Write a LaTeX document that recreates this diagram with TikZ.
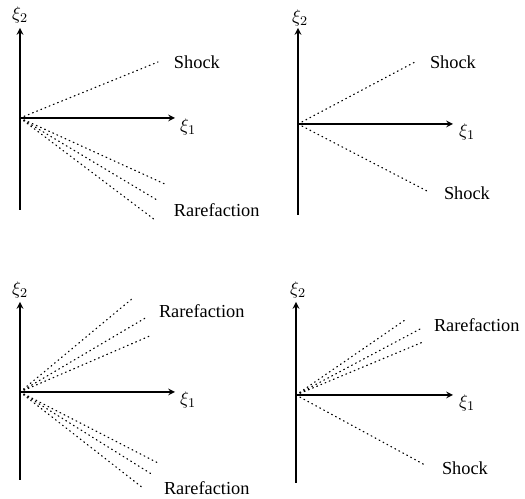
\documentclass[tikz,border=0pt]{standalone}
\usepackage{fontspec}
\setmainfont{Liberation Serif}
\usetikzlibrary{arrows, positioning}
\tikzset{
  ax/.style={->, >=stealth, line width=0.8pt},
  ray/.style={line width=0.7pt, dash pattern=on 0.5pt off 2.2pt, line cap=round},
  lab/.style={font=\fontsize{11}{13}\selectfont, inner sep=1pt}
}

\begin{document}
\begin{tikzpicture}[x=0.6pt, y=-0.6pt]
  \useasboundingbox (0,0) rectangle (525,499);
  % upper left: shock and rarefaction
  \coordinate (O1) at (20,118);
  \coordinate (B1) at (20,210);
  \coordinate (T1) at (20,28);
  \coordinate (E1) at (175,118);
  \node[lab] (Y1) at (20,15) {$\xi_2$};
  \node[lab] (X1) at (188,127) {$\xi_1$};
  \draw[ax] (B1) -- (T1);
  \draw[ax] (O1) -- (E1);
  \coordinate (S1) at (158,62);
  \node[lab, anchor=west] (SL1) at (172,62) {Shock};
  \draw[ray] (O1) -- (S1);
  \coordinate (Ra1) at (167,185);
  \coordinate (Rb1) at (157,200);
  \coordinate (Rc1) at (155,220);
  \node[lab, anchor=west] (RL1) at (172,210) {Rarefaction};
  \foreach \r in {Ra1, Rb1, Rc1}
    \draw[ray] (O1) -- (\r);
  % upper right: two shocks
  \coordinate (O2) at (298,124);
  \coordinate (B2) at (298,215);
  \coordinate (T2) at (298,28);
  \coordinate (E2) at (453,124);
  \node[lab] (Y2) at (300,18) {$\xi_2$};
  \node[lab] (X2) at (467,132) {$\xi_1$};
  \draw[ax] (B2) -- (T2);
  \draw[ax] (O2) -- (E2);
  \coordinate (Sa2) at (415,62);
  \coordinate (Sb2) at (427,191);
  \node[lab, anchor=west] (SLa2) at (428,62) {Shock};
  \node[lab, anchor=west] (SLb2) at (442,193) {Shock};
  \draw[ray] (O2) -- (Sa2);
  \draw[ray] (O2) -- (Sb2);
  % lower left: two rarefactions
  \coordinate (O3) at (20,392);
  \coordinate (B3) at (20,480);
  \coordinate (T3) at (20,302);
  \coordinate (E3) at (175,392);
  \node[lab] (Y3) at (20,290) {$\xi_2$};
  \node[lab] (X3) at (188,400) {$\xi_1$};
  \draw[ax] (B3) -- (T3);
  \draw[ax] (O3) -- (E3);
  \coordinate (Ua3) at (133,298);
  \coordinate (Ub3) at (147,317);
  \coordinate (Uc3) at (152,335);
  \node[lab, anchor=west] (RLa3) at (157,311) {Rarefaction};
  \coordinate (La3) at (158,463);
  \coordinate (Lb3) at (153,475);
  \coordinate (Lc3) at (143,488);
  \node[lab, anchor=west] (RLb3) at (162,488) {Rarefaction};
  \foreach \r in {Ua3, Ub3, Uc3, La3, Lb3, Lc3}
    \draw[ray] (O3) -- (\r);
  % lower right: rarefaction and shock
  \coordinate (O4) at (296,395);
  \coordinate (B4) at (296,483);
  \coordinate (T4) at (296,302);
  \coordinate (E4) at (453,395);
  \node[lab] (Y4) at (298,290) {$\xi_2$};
  \node[lab] (X4) at (467,403) {$\xi_1$};
  \draw[ax] (B4) -- (T4);
  \draw[ax] (O4) -- (E4);
  \coordinate (Ua4) at (405,320);
  \coordinate (Ub4) at (422,328);
  \coordinate (Uc4) at (423,342);
  \node[lab, anchor=west] (RL4) at (432,325) {Rarefaction};
  \foreach \r in {Ua4, Ub4, Uc4}
    \draw[ray] (O4) -- (\r);
  \coordinate (S4) at (425,465);
  \node[lab, anchor=west] (SL4) at (440,468) {Shock};
  \draw[ray] (O4) -- (S4);
\end{tikzpicture}
\end{document}
